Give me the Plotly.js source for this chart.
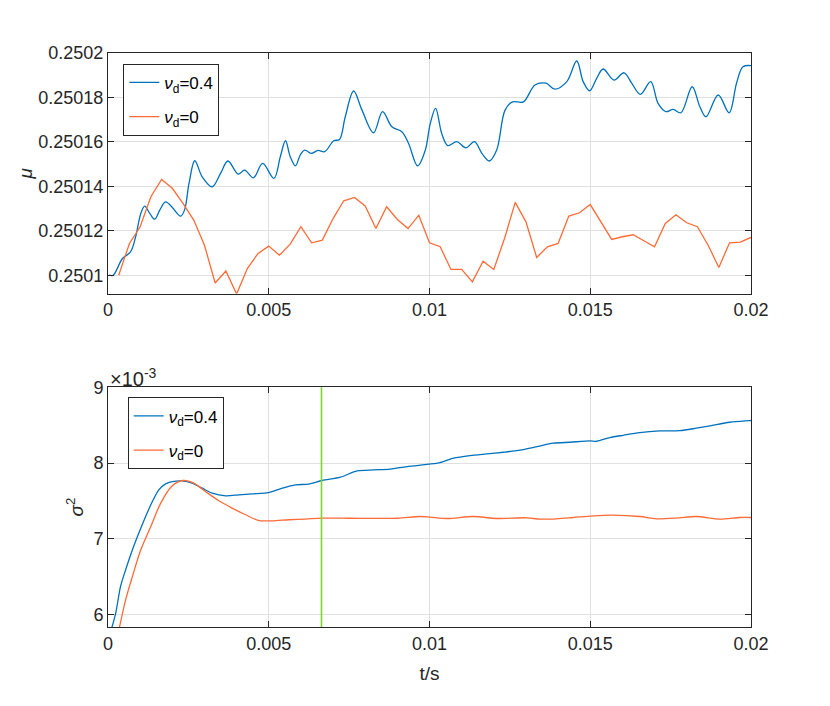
<!DOCTYPE html>
<html>
<head>
<meta charset="utf-8">
<script src="https://cdn.plot.ly/plotly-3.0.1.min.js"></script>
<style>html,body{margin:0;padding:0;background:#fff;}#chart{width:830px;height:706px;}</style>
</head>
<body>
<div id="chart"></div>
<script>
// ---- data: top panel (mu) ----
var tMuBlue = [0.00003,0.00016,0.00045,0.0007,0.00086,0.00102,0.00114,0.0013,0.00145,0.00161,0.00179,0.002,0.00226,0.00238,0.00252,0.0027,0.00293,0.00324,0.0035,0.00373,0.00405,0.00425,0.00452,0.00481,0.00516,0.00536,0.00552,0.00567,0.00583,0.00598,0.00612,0.00633,0.00653,0.00674,0.00702,0.0072,0.00738,0.00764,0.0079,0.00826,0.00854,0.00883,0.00914,0.00935,0.00963,0.00987,0.01002,0.01019,0.01038,0.01057,0.01085,0.01113,0.0114,0.01163,0.01186,0.01209,0.01235,0.01258,0.01292,0.01328,0.01362,0.0139,0.01427,0.01458,0.01478,0.01498,0.0152,0.0154,0.01574,0.01605,0.01629,0.01656,0.01688,0.01711,0.01735,0.01758,0.01782,0.01817,0.01841,0.0186,0.01898,0.01932,0.01955,0.01975,0.02];
var muBlue = [0.2501000,0.2501000,0.2501075,0.2501105,0.2501173,0.2501278,0.2501311,0.2501278,0.2501252,0.2501293,0.2501330,0.2501305,0.2501266,0.2501293,0.2501413,0.2501515,0.2501443,0.2501398,0.2501458,0.2501514,0.2501455,0.2501473,0.2501438,0.2501503,0.2501436,0.2501533,0.2501605,0.2501533,0.2501492,0.2501541,0.2501563,0.2501548,0.2501562,0.2501556,0.2501605,0.2501611,0.2501713,0.2501829,0.2501743,0.2501641,0.2501736,0.2501668,0.2501646,0.2501593,0.2501492,0.2501563,0.2501680,0.2501751,0.2501638,0.2501583,0.2501601,0.2501573,0.2501601,0.2501548,0.2501514,0.2501563,0.2501743,0.2501780,0.2501780,0.2501856,0.2501864,0.2501837,0.2501871,0.2501964,0.2501871,0.2501830,0.2501886,0.2501928,0.2501878,0.2501911,0.2501864,0.2501814,0.2501871,0.2501773,0.2501736,0.2501746,0.2501731,0.2501848,0.2501758,0.2501713,0.2501811,0.2501731,0.2501864,0.2501938,0.2501943];
var tMuOrange = [0.000333,0.000667,0.001,0.001333,0.001667,0.002,0.002333,0.002667,0.003,0.003333,0.003667,0.004,0.004333,0.004667,0.005,0.005333,0.005667,0.006,0.006333,0.006667,0.007,0.007333,0.007667,0.008,0.008333,0.008667,0.009,0.009333,0.009667,0.01,0.010333,0.010667,0.011,0.011333,0.011667,0.012,0.012333,0.012667,0.013,0.013333,0.013667,0.014,0.014333,0.014667,0.015,0.015333,0.015667,0.016,0.016333,0.016667,0.017,0.017333,0.017667,0.018,0.018333,0.018667,0.019,0.019333,0.019667,0.02];
var muOrange = [0.2501000,0.2501143,0.2501218,0.2501353,0.2501431,0.2501391,0.2501323,0.2501248,0.2501135,0.2500965,0.2501019,0.2500915,0.2501030,0.2501098,0.2501131,0.2501090,0.2501140,0.2501218,0.2501146,0.2501158,0.2501255,0.2501335,0.2501350,0.2501312,0.2501210,0.2501308,0.2501251,0.2501210,0.2501270,0.2501146,0.2501128,0.2501026,0.2501026,0.2500970,0.2501063,0.2501026,0.2501165,0.2501328,0.2501240,0.2501080,0.2501128,0.2501143,0.2501266,0.2501281,0.2501318,0.2501240,0.2501161,0.2501173,0.2501182,0.2501155,0.2501128,0.2501233,0.2501272,0.2501236,0.2501218,0.2501135,0.2501035,0.2501146,0.2501149,0.2501170];

// ---- data: bottom panel (sigma^2, in units of 1e-3) ----
var tS2Blue = [0.0001,0.00024,0.00039,0.00055,0.00076,0.00096,0.00117,0.00138,0.00158,0.00179,0.002,0.00231,0.00262,0.00293,0.00324,0.00366,0.00407,0.00448,0.005,0.00542,0.00583,0.00624,0.00666,0.00723,0.00775,0.00826,0.00878,0.0093,0.00997,0.01033,0.01075,0.01126,0.01178,0.0123,0.01282,0.01334,0.01385,0.01437,0.01499,0.0152,0.01561,0.01603,0.01654,0.01716,0.01778,0.0183,0.01872,0.01934,0.01996,0.02];
var s2Blue = [5.80,6.02,6.373,6.593,6.856,7.076,7.295,7.493,7.647,7.726,7.756,7.765,7.735,7.669,7.603,7.568,7.581,7.594,7.611,7.669,7.713,7.722,7.77,7.814,7.897,7.91,7.92,7.954,7.985,8.007,8.065,8.099,8.121,8.143,8.17,8.217,8.262,8.275,8.292,8.288,8.336,8.367,8.402,8.424,8.428,8.46,8.49,8.539,8.56,8.562];
var tS2Orange = [0.00034,0.00055,0.00076,0.00102,0.00133,0.00164,0.002,0.00233,0.00267,0.00303,0.00345,0.00386,0.00428,0.00469,0.00511,0.00562,0.00614,0.00666,0.0075,0.0083,0.009,0.0097,0.01002,0.01054,0.01137,0.01209,0.01302,0.01344,0.01396,0.01447,0.01509,0.01571,0.01654,0.01706,0.01768,0.0183,0.01903,0.01965,0.02];
var s2Orange = [5.80,6.198,6.505,6.856,7.163,7.472,7.70,7.77,7.735,7.625,7.502,7.406,7.318,7.242,7.238,7.252,7.261,7.274,7.272,7.27,7.272,7.295,7.287,7.269,7.295,7.269,7.278,7.26,7.265,7.282,7.304,7.313,7.295,7.265,7.274,7.295,7.26,7.282,7.282];
var markerT = 0.00664;

// ---- labels ----
var xTickVals = [0, 0.005, 0.01, 0.015, 0.02];
var xTickText = ['0', '0.005', '0.01', '0.015', '0.02'];
var muTickVals = [0.2501, 0.25012, 0.25014, 0.25016, 0.25018, 0.2502];
var muTickText = ['0.2501', '0.25012', '0.25014', '0.25016', '0.25018', '0.2502'];
var s2TickVals = [6, 7, 8, 9];
var s2TickText = ['6', '7', '8', '9'];
var nameBlue = '<i>ν</i><sub>d</sub>=0.4';
var nameOrange = '<i>ν</i><sub>d</sub>=0';

var BLUE = '#0072BD', ORANGE = '#FF6B35', GREEN = '#7ED62C';
var FONT = 'Liberation Sans, Arial, Helvetica, sans-serif';
var AX = '#262626';
var TICK = 18;

var traces = [
  {x: tMuBlue, y: muBlue, type: 'scatter', mode: 'lines', name: nameBlue, legendgroup: 'a',
   line: {color: BLUE, width: 1.3, shape: 'spline', smoothing: 1}, xaxis: 'x', yaxis: 'y', legend: 'legend'},
  {x: tMuOrange, y: muOrange, type: 'scatter', mode: 'lines', name: nameOrange, legendgroup: 'b',
   line: {color: ORANGE, width: 1.3}, xaxis: 'x', yaxis: 'y', legend: 'legend'},
  {x: tS2Blue, y: s2Blue, type: 'scatter', mode: 'lines', name: nameBlue, legendgroup: 'c',
   line: {color: BLUE, width: 1.3, shape: 'spline', smoothing: 0.8}, xaxis: 'x2', yaxis: 'y2', legend: 'legend2'},
  {x: tS2Orange, y: s2Orange, type: 'scatter', mode: 'lines', name: nameOrange, legendgroup: 'd',
   line: {color: ORANGE, width: 1.3, shape: 'spline', smoothing: 0.8}, xaxis: 'x2', yaxis: 'y2', legend: 'legend2'}
];

function xAxis(anchor) {
  return {anchor: anchor, range: [0, 0.02], tickvals: xTickVals, ticktext: xTickText,
    ticks: 'inside', ticklen: 6, tickcolor: AX, mirror: 'ticks', showline: true, linecolor: AX, linewidth: 1,
    showgrid: true, gridcolor: '#e0e0e0', zeroline: false, tickfont: {family: FONT, size: TICK, color: AX}};
}
var xa1 = xAxis('y');
var xa2 = xAxis('y2');
xa2.title = {text: 't/s', font: {family: FONT, size: 19, color: AX}, standoff: 14};

function legendBox(x, y) {
  return {x: x, y: y, xanchor: 'left', yanchor: 'top', bgcolor: '#fff', bordercolor: AX, borderwidth: 1,
    font: {family: FONT, size: 17, color: '#000'}, traceorder: 'grouped', tracegroupgap: 9};
}

var layout = {
  width: 830, height: 706,
  margin: {l: 108, r: 79, t: 53, b: 79},
  paper_bgcolor: '#fff', plot_bgcolor: '#fff',
  font: {family: FONT, color: AX},
  xaxis: xa1,
  yaxis: {domain: [0.581, 1], anchor: 'x', range: [0.25009176, 0.2502], tickvals: muTickVals, ticktext: muTickText,
    ticks: 'inside', ticklen: 6, tickcolor: AX, mirror: 'ticks', showline: true, linecolor: AX, linewidth: 1,
    showgrid: true, gridcolor: '#e0e0e0', zeroline: false, tickfont: {family: FONT, size: TICK, color: AX},
    title: {text: '<i>μ</i>', font: {family: FONT, size: 19, color: AX}, standoff: 0}},
  xaxis2: xa2,
  yaxis2: {domain: [0, 0.4176], anchor: 'x2', range: [5.837, 9], tickvals: s2TickVals, ticktext: s2TickText,
    ticks: 'inside', ticklen: 6, tickcolor: AX, mirror: 'ticks', showline: true, linecolor: AX, linewidth: 1,
    showgrid: true, gridcolor: '#e0e0e0', zeroline: false, tickfont: {family: FONT, size: TICK, color: AX},
    title: {text: '<i>σ</i><sup>2</sup>', font: {family: FONT, size: 19, color: AX}, standoff: 4}},
  legend: legendBox(0.0238, 0.981),
  legend2: legendBox(0.0306, 0.400),
  shapes: [{type: 'line', xref: 'x2', yref: 'y2 domain', x0: markerT, x1: markerT, y0: 0, y1: 1,
    line: {color: GREEN, width: 1.6}}],
  annotations: [{xref: 'x2 domain', yref: 'y2 domain', x: 0, y: 1, xanchor: 'left', yanchor: 'bottom',
    text: '×10<sup>-3</sup>', showarrow: false, font: {family: FONT, size: 20, color: AX}, yshift: -5}],
  showlegend: true
};

Plotly.newPlot('chart', traces, layout, {displayModeBar: false, staticPlot: true});
</script>
</body>
</html>
